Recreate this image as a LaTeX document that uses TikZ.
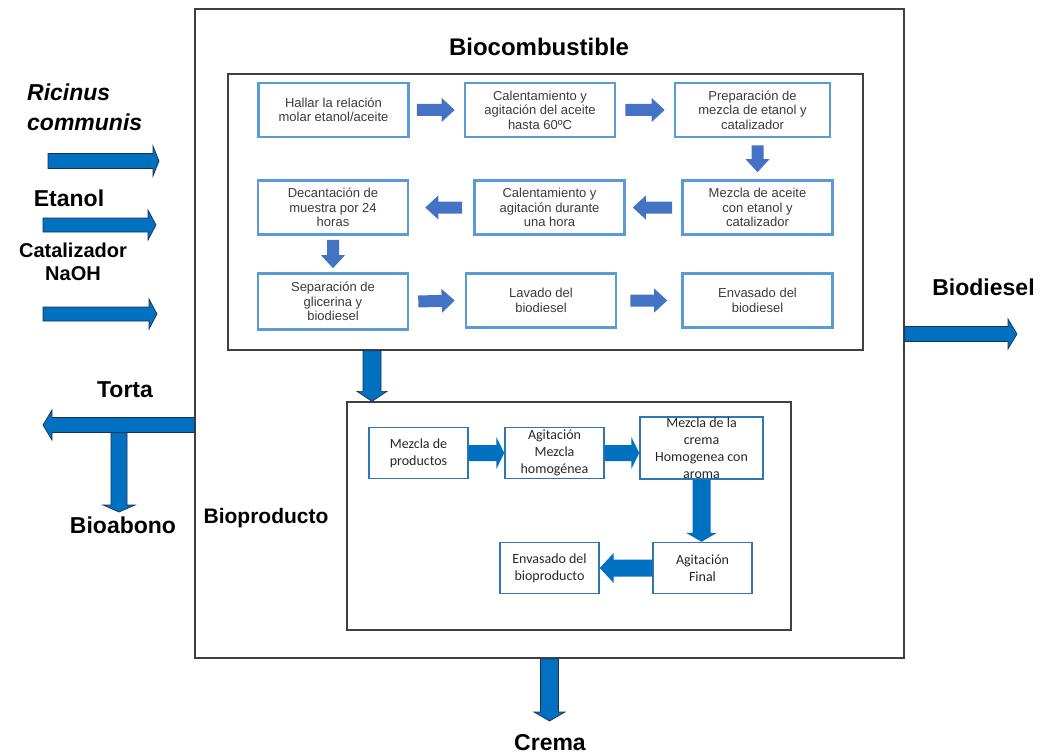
\documentclass[tikz,border=0pt]{standalone}
\usepackage{fontspec}
\setmainfont{Liberation Sans}
\newfontfamily\carlito{Carlito}
\usetikzlibrary{calc}

\definecolor{framegray}{HTML}{404040}
\definecolor{boxblue}{HTML}{5B9BD5}
\definecolor{arrblue}{HTML}{4472C4}
\definecolor{pblue}{HTML}{2E75B6}
\definecolor{flowblue}{HTML}{0070C0}
\definecolor{edgeblue}{HTML}{1F2F4F}
\definecolor{txtgray}{HTML}{3A3A3A}

\def\flw{7pt}
\def\flh{12pt}
\def\fll{12pt}

\tikzset{
  frame/.style={draw=framegray, line width=1.3pt, inner sep=0pt},
  etapa/.style={draw=boxblue, line width=2.6pt, minimum width=150pt, minimum height=54pt,
    inner sep=1pt, align=center, text=txtgray, font=\fontsize{13}{14.5}\selectfont},
  pbox/.style={draw=pblue, line width=1.4pt, minimum width=99pt, minimum height=51pt,
    inner sep=0pt, align=center, text=black!85, font=\carlito\fontsize{14}{17}\selectfont},
  lbl/.style={font=\bfseries\fontsize{23}{28}\selectfont, inner sep=0pt},
  flw/.store in=\flw, flh/.store in=\flh, fll/.store in=\fll,
  % block arrow between two points
  flecha/.style={to path={
      ($(\tikztotarget)!\fll!(\tikztostart)$) coordinate (fk)
      ($(\tikztostart)!\flw!90:(\tikztotarget)$) -- ($(fk)!\flw!90:(\tikztotarget)$)
      -- ($(fk)!\flh!90:(\tikztotarget)$) -- (\tikztotarget)
      -- ($(fk)!\flh!-90:(\tikztotarget)$) -- ($(fk)!\flw!-90:(\tikztotarget)$)
      -- ($(\tikztostart)!\flw!-90:(\tikztotarget)$) -- cycle}},
  blk/.style={flecha, fill=arrblue, flw=6pt, flh=12pt, fll=13pt},
  pblk/.style={flecha, fill=flowblue, flw=8pt, flh=16pt, fll=8pt},
  oblk/.style={flecha, fill=flowblue, draw=edgeblue, line width=0.7pt, line join=miter,
    flw=7.5pt, flh=15pt, fll=8pt},
}

\begin{document}
\begin{tikzpicture}[x=1pt, y=-1pt]
\useasboundingbox (0,0) rectangle (1046,754);

%frames
\node[frame, minimum width=709pt, minimum height=649pt] (outer) at (549.5,333.5) {};
\node[frame, minimum width=635pt, minimum height=276pt] (biocomb) at (545.5,212) {};
\node[frame, minimum width=444pt, minimum height=228pt] (bioprod) at (569,516) {};

\node[lbl, anchor=base, font=\bfseries\fontsize{24}{28}\selectfont] (tbiocomb) at (539,56) {Biocombustible};
\node[lbl, anchor=base, font=\bfseries\fontsize{21}{24}\selectfont] (tbioprod) at (266,523) {Bioproducto};

%biodiesel steps
\node[etapa] (b1) at (333.5,110) {Hallar la relación\\molar etanol/aceite};
\node[etapa] (b2) at (540,110) {Calentamiento y\\agitación del aceite\\hasta 60ºC};
\node[etapa, minimum width=155pt] (b3) at (752.5,110) {Preparación de\\mezcla de etanol y\\catalizador};
\node[etapa] (b4) at (757.5,207.5) {Mezcla de aceite\\con etanol y\\catalizador};
\node[etapa] (b5) at (549.5,207.5) {Calentamiento y\\agitación durante\\una hora};
\node[etapa] (b6) at (333,207.5) {Decantación de\\muestra por 24\\horas};
\node[etapa, minimum height=56pt] (b7) at (333,301.5) {Separación de\\glicerina y\\biodiesel};
\node[etapa] (b8) at (541,300.5) {Lavado del\\biodiesel};
\node[etapa] (b9) at (757.5,300.5) {Envasado del\\biodiesel};

\path[blk] ([xshift=7pt]b1.east) to ([xshift=-9pt]b2.west);
\path[blk] ([xshift=9pt]b2.east) to ([xshift=-9pt]b3.west);
\path[blk] ([yshift=-7pt]b3.south -| b4.north) to ([yshift=7pt]b4.north);
\path[blk] ([xshift=-9pt]b4.west) to ([xshift=7pt]b5.east);
\path[blk] ([xshift=-11pt]b5.west) to ([xshift=16pt]b6.east);
\path[blk] ([yshift=-4pt]b6.south) to ([yshift=4pt]b7.north);
\path[blk] ([xshift=9pt]b7.east) to ([xshift=-10pt]b8.west);
\path[blk] ([xshift=13pt]b8.east) to ([xshift=-14pt]b9.west);

%bioproduct steps
\node[pbox] (p1) at (418.5,453) {Mezcla de\\productos};
\node[pbox] (p2) at (554.5,453) {Agitación\\Mezcla\\homogénea};
\node[pbox, minimum width=123pt, minimum height=62pt] (p3) at (701.5,448) {Mezcla de la\\crema\\Homogenea con\\aroma};
\node[pbox] (p4) at (702.5,568) {Agitación\\Final};
\node[pbox] (p5) at (549.5,568) {Envasado del\\bioproducto};

\path[pblk] (p1.east) to (p2.west);
\path[pblk] (p2.east) to (p2.east -| p3.west);
\path[pblk, flw=9pt, flh=15.5pt, fll=9pt] (p3.south) to (p3.south |- p4.north);
\path[pblk, flw=8.5pt, flh=15pt, fll=14pt] (p4.west) to (p5.east);

%inputs
\node[lbl, anchor=base west, align=left, font=\bfseries\itshape\fontsize{23}{30}\selectfont] (ricinus) at (27,131) {Ricinus\\communis};
\node[lbl, anchor=base] (etanol) at (69,206) {Etanol};
\node[lbl, anchor=base, align=center, font=\bfseries\fontsize{20}{23}\selectfont] (cat) at (73,280) {Catalizador\\NaOH};

\coordinate (in1a) at (48,161);
\coordinate (in1b) at (159,161);
\coordinate (in2a) at (43,225);
\coordinate (in2b) at (156,225);
\coordinate (in3a) at (43,314);
\coordinate (in3b) at (157,314);
\path[oblk, fll=6pt] (in1a) to (in1b);
\path[oblk, flw=7pt] (in2a) to (in2b);
\path[oblk, flw=7pt] (in3a) to (in3b);

%outputs
\node[lbl, anchor=base] (torta) at (125,397) {Torta};
\node[lbl, anchor=base] (bioabono) at (123,533) {Bioabono};
\node[lbl, anchor=base] (biodiesel) at (983.5,295) {Biodiesel};
\node[lbl, anchor=base] (crema) at (550,750) {Crema};

\coordinate (tortaend) at (43,425);
\coordinate (abono) at (119,512);
\coordinate (dieselend) at (1017,334);
\coordinate (cremaend) at (549,721);
\coordinate (xbaja) at (372,0);

\path[oblk, flw=8pt, flh=16pt, fll=7pt] (abono |- tortaend) to (abono);
\path[oblk, fll=9pt] (outer.west |- tortaend) to (tortaend);
\path[oblk, fll=9pt] (outer.east |- dieselend) to (dieselend);
\path[oblk, flw=9pt, flh=15.5pt, fll=9pt] (outer.south) to (outer.south |- cremaend);
\path[oblk, flw=9pt, flh=15pt, fll=10pt] (xbaja |- biocomb.south) to (xbaja |- bioprod.north);

\end{tikzpicture}
\end{document}
